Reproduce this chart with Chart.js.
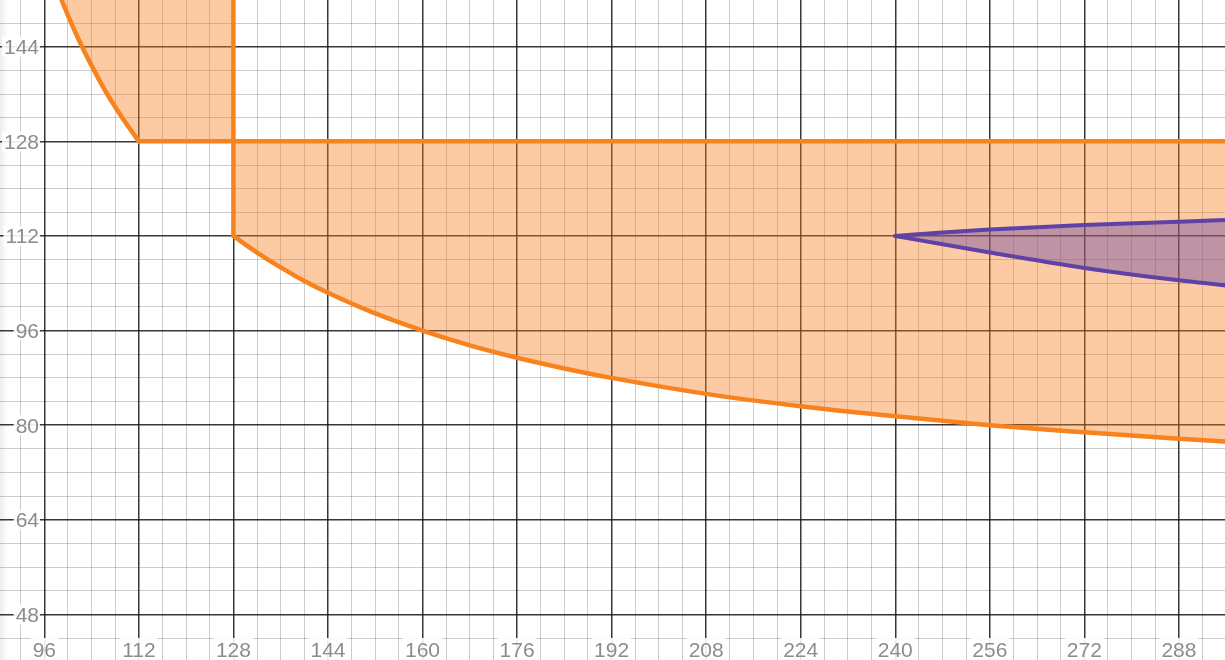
<!DOCTYPE html>
<html>
<head>
<meta charset="utf-8">
<script src="https://cdn.jsdelivr.net/npm/chart.js@4.4.0/dist/chart.umd.min.js"></script>
<style>
  html, body { margin: 0; padding: 0; background: #fff; }
  #wrap { width: 1225px; height: 660px; position: relative; }
</style>
</head>
<body>
<div id="wrap"><canvas id="graph"></canvas></div>
<script>
// tick labels shown on the edges
var xLabels = [96, 112, 128, 144, 160, 176, 192, 208, 224, 240, 256, 272, 288];
var yLabels = [48, 64, 80, 96, 112, 128, 144];

// upper-left curve, runs off the top down to (112,128)
var topCurveX = [97.5, 98.5, 100, 102, 104, 106, 108, 110, 112];
var topCurveY = [155.7, 153.0, 149.3, 144.8, 140.8, 137.1, 133.8, 130.8, 128];

// lower curve from (128,112) to the right edge
var lowCurveX = [128, 132, 136, 140, 144, 152, 160, 168, 176, 184, 192, 208, 224, 240, 256, 272, 288, 300];
var lowCurveY = [112, 109.2, 106.7, 104.4, 102.4, 98.9, 96, 93.5, 91.4, 89.6, 88, 85.3, 83.2, 81.5, 80, 78.8, 77.7, 77.0];

// straight edges
var hLineX = [112, 300], hLineY = [128, 128];
var vLineX = [128, 128], vLineY = [156, 112];

// purple wedge, tip at (240,112)
var wedgeUpX = [240, 248, 256, 272, 288, 300];
var wedgeUpY = [112, 112.6, 113.1, 113.85, 114.4, 114.85];
var wedgeLowX = [240, 248, 256, 272, 288, 300];
var wedgeLowY = [112, 110.6, 109.2, 106.6, 104.5, 103.2];

var orange = '#f7821e';
var orangeFill = 'rgba(250, 126, 25, 0.4)';
var purple = '#6042a6';
var purpleFill = 'rgba(96, 66, 166, 0.4)';

function pts(xs, ys) {
  return xs.map(function (x, i) { return { x: x, y: ys[i] }; });
}

// closed outlines for the fills
var topShape = pts(topCurveX, topCurveY).concat(pts([128, 128], [128, 156]));
var lowShape = pts([128, 300], [128, 128]).concat(pts(lowCurveX, lowCurveY).reverse());
var wedgeShape = pts(wedgeUpX, wedgeUpY).concat(pts(wedgeLowX, wedgeLowY).reverse());

function fillSet(data, color, order) {
  return { data: data, showLine: true, fill: 'shape', backgroundColor: color,
    borderWidth: 0, borderColor: 'transparent', pointRadius: 0, order: order };
}
function lineSet(data, color, w, order, smooth) {
  return { data: data, showLine: true, fill: false, borderColor: color,
    borderWidth: w, pointRadius: 0, order: order, borderJoinStyle: 'round',
    borderCapStyle: 'round', cubicInterpolationMode: smooth ? 'monotone' : 'default' };
}

// grid every 4 units, darker every 16
function gridTicks(min, max) {
  return function (axis) {
    var t = [];
    for (var v = Math.ceil(min / 4) * 4; v <= max; v += 4) t.push({ value: v });
    axis.ticks = t;
  };
}
function gridColor(ctx) {
  return ctx.tick.value % 16 === 0 ? 'rgba(20,20,20,0.85)' : 'rgba(0,0,0,0.2)';
}
function gridWidth(ctx) {
  return ctx.tick.value % 16 === 0 ? 1.5 : 1;
}

var edgeLabels = {
  id: 'edgeLabels',
  afterDatasetsDraw: function (chart) {
    var c = chart.ctx, xs = chart.scales.x, ys = chart.scales.y;
    c.save();
    // faint shade along the left edge
    var g = c.createLinearGradient(0, 0, 8, 0);
    g.addColorStop(0, 'rgba(0,0,0,0.07)');
    g.addColorStop(1, 'rgba(0,0,0,0)');
    c.fillStyle = g;
    c.fillRect(0, 0, 8, chart.height);

    c.font = '21px "Liberation Sans", Arial, sans-serif';
    c.textBaseline = 'alphabetic';
    yLabels.forEach(function (v) {
      var py = ys.getPixelForValue(v);
      var s = String(v), w = c.measureText(s).width;
      c.fillStyle = 'rgba(255,255,255,0.9)';
      c.fillRect(39 - w - 2, py - 10, w + 3, 20);
      c.fillStyle = '#8c8c8c';
      c.textAlign = 'right';
      c.fillText(s, 39, py + 7.5);
    });
    xLabels.forEach(function (v) {
      var px = xs.getPixelForValue(v);
      var s = String(v), w = c.measureText(s).width;
      c.fillStyle = 'rgba(255,255,255,0.9)';
      c.fillRect(px - w / 2 - 2, 638, w + 4, 22);
      c.fillStyle = '#8c8c8c';
      c.textAlign = 'center';
      c.fillText(s, px, 656.5);
    });
    c.restore();
  }
};

var graph = new Chart(document.getElementById('graph'), {
  type: 'scatter',
  data: {
    datasets: [
      lineSet(pts(wedgeUpX, wedgeUpY), purple, 4, 1, true),
      lineSet(pts(wedgeLowX, wedgeLowY), purple, 4, 1, true),
      fillSet(wedgeShape, purpleFill, 2),
      lineSet(pts(topCurveX, topCurveY), orange, 4.5, 3, true),
      lineSet(pts(lowCurveX, lowCurveY), orange, 4.5, 3, true),
      lineSet(pts(hLineX, hLineY), orange, 4.5, 3, false),
      lineSet(pts(vLineX, vLineY), orange, 4.5, 3, false),
      fillSet(topShape, orangeFill, 4),
      fillSet(lowShape, orangeFill, 4)
    ]
  },
  options: {
    responsive: true,
    maintainAspectRatio: false,
    animation: false,
    events: [],
    layout: { padding: 0 },
    plugins: { legend: { display: false }, tooltip: { enabled: false } },
    scales: {
      x: {
        type: 'linear', min: 88.5, max: 295.8,
        afterBuildTicks: gridTicks(88.5, 295.8),
        ticks: { display: false },
        border: { display: false },
        grid: { color: gridColor, lineWidth: gridWidth, drawTicks: false }
      },
      y: {
        type: 'linear', min: 40.3, max: 151.9,
        afterBuildTicks: gridTicks(40.3, 151.9),
        ticks: { display: false },
        border: { display: false },
        grid: { color: gridColor, lineWidth: gridWidth, drawTicks: false }
      }
    }
  },
  plugins: [edgeLabels]
});
</script>
</body>
</html>
